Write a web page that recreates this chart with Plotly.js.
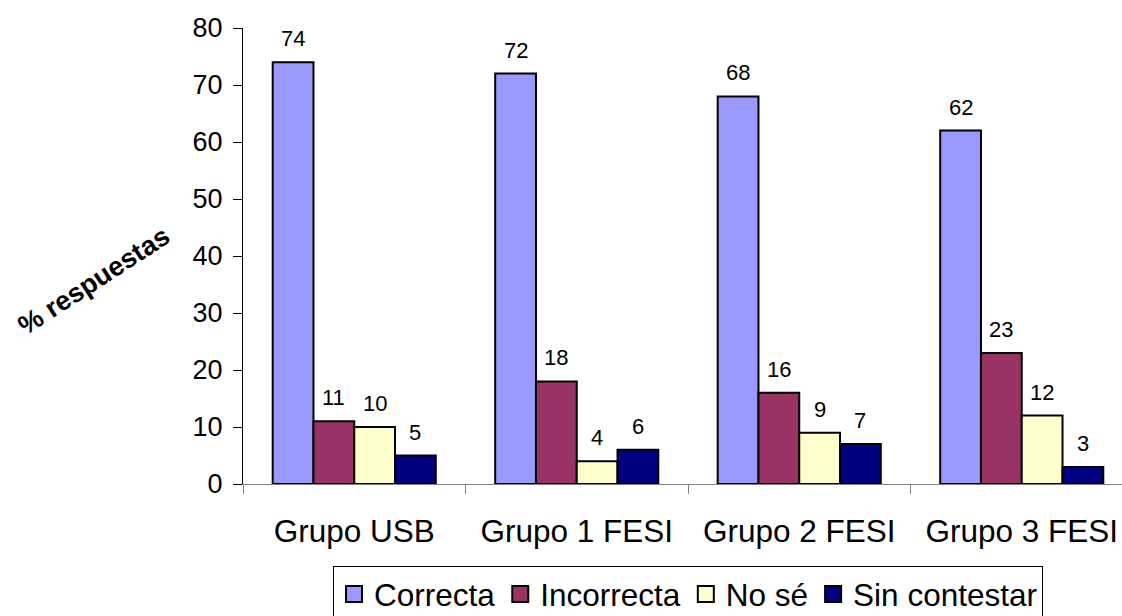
<!DOCTYPE html>
<html>
<head>
<meta charset="utf-8">
<script src="https://cdn.plot.ly/plotly-3.0.1.min.js"></script>
<style>html,body{margin:0;padding:0;background:#fff;}#chart{width:1122px;height:616px;}</style>
</head>
<body>
<div id="chart"></div>
<script>
var categories = ["Grupo USB", "Grupo 1 FESI", "Grupo 2 FESI", "Grupo 3 FESI"];
var seriesNames = ["Correcta", "Incorrecta", "No sé", "Sin contestar"];
var correcta = [74, 72, 68, 62];
var incorrecta = [11, 18, 16, 23];
var nose = [10, 4, 9, 12];
var sinContestar = [5, 6, 7, 3];
var yTicks = [0, 10, 20, 30, 40, 50, 60, 70, 80];

var seriesValues = [correcta, incorrecta, nose, sinContestar];
var colors = ["#9999FF", "#993366", "#FFFFCC", "#000080"];
var bargap = 0.267;
var FONT = "Arial, 'Liberation Sans', sans-serif";

var traces = [];
seriesValues.forEach(function (vals, j) {
  traces.push({
    type: "bar",
    x: categories,
    y: vals,
    name: seriesNames[j],
    showlegend: false,
    marker: {color: colors[j], line: {color: "#000000", width: 2}},
    hoverinfo: "x+y+name"
  });
});
seriesValues.forEach(function (vals, j) {
  traces.push({
    type: "scatter",
    mode: "markers",
    x: [null],
    y: [null],
    name: seriesNames[j],
    marker: {symbol: "square", size: 18, color: colors[j], line: {color: "#000000", width: 2}},
    hoverinfo: "skip"
  });
});

var w = (1 - bargap) / seriesValues.length;
var annotations = [];
seriesValues.forEach(function (vals, j) {
  vals.forEach(function (v, i) {
    annotations.push({
      x: i + (j - (seriesValues.length - 1) / 2) * w,
      y: v,
      xref: "x",
      yref: "y",
      text: String(v),
      showarrow: false,
      yanchor: "bottom",
      yshift: 9,
      font: {family: FONT, size: 22, color: "#000"}
    });
  });
});
annotations.push({
  xref: "paper", yref: "paper",
  x: -0.17, y: 0.445,
  xanchor: "center", yanchor: "middle",
  text: "<b>% respuestas</b>",
  textangle: -33,
  showarrow: false,
  font: {family: FONT, size: 27, color: "#000"}
});

var layout = {
  width: 1122,
  height: 616,
  margin: {l: 243, r: 0, t: 28, b: 132, autoexpand: false},
  paper_bgcolor: "#ffffff",
  plot_bgcolor: "#ffffff",
  font: {family: FONT, color: "#000"},
  barmode: "group",
  bargap: bargap,
  bargroupgap: 0,
  showlegend: true,
  legend: {
    orientation: "h",
    x: 0.1024, y: -0.18,
    xanchor: "left", yanchor: "top",
    bordercolor: "#000000",
    borderwidth: 1,
    itemsizing: "trace",
    font: {size: 31.5, family: FONT, color: "#000"},
    traceorder: "normal"
  },
  xaxis: {
    type: "category",
    range: [-0.5, 3.4506],
    tickson: "boundaries",
    ticks: "outside",
    ticklen: 9,
    tickcolor: "#808080",
    ticklabelstandoff: 19,
    showline: true,
    linecolor: "#808080",
    linewidth: 1,
    showgrid: false,
    zeroline: false,
    tickfont: {size: 31.5, family: FONT, color: "#000"},
    fixedrange: true
  },
  yaxis: {
    range: [0, 80],
    tickvals: yTicks,
    ticktext: yTicks.map(String),
    ticks: "outside",
    ticklen: 9,
    tickcolor: "#000000",
    ticklabelstandoff: 5,
    showline: true,
    linecolor: "#000000",
    linewidth: 1,
    showgrid: false,
    zeroline: false,
    tickfont: {size: 27, family: FONT, color: "#000"},
    fixedrange: true
  },
  annotations: annotations
};

Plotly.newPlot("chart", traces, layout, {displayModeBar: false, staticPlot: true});
</script>
</body>
</html>
